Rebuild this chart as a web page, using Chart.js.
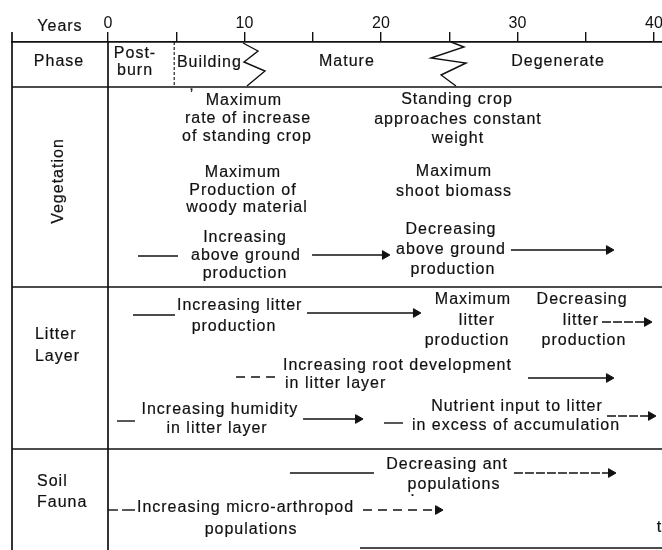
<!DOCTYPE html>
<html><head><meta charset="utf-8">
<script src="https://cdn.jsdelivr.net/npm/chart.js@4/dist/chart.umd.min.js"></script>
<style>html,body{margin:0;padding:0;background:#fff}canvas{display:block}</style>
</head><body>
<canvas id="c" width="662" height="550"></canvas>
<script>
// ---- axis (years) ----
const X_MIN = -7.033, X_MAX = 40.586;
const tickYears = [0, 5, 10, 15, 20, 25, 30, 35, 40];
const tickLabels = ['0', '', '10', '', '20', '', '30', '', '40'];
// ---- row layout (row units, top to bottom) ----
const ROW_TOP = 42, ROW_BOTTOM = 550;
const rowSeparators = [87, 287, 449];
// ---- phases ----
const postBurnEnd = 4.85;
const zigzag1X = [9.89, 10.99, 9.96, 11.50, 10.18];
const zigzag1Y = [43, 51, 62, 71, 86];
const zigzag2X = [25.13, 26.08, 23.66, 26.23, 24.40, 25.49];
const zigzag2Y = [42, 47, 58, 63, 75, 86];
// ---- trend arrows: start year, end year, row, dash style, arrow head ----
const arrowFrom = [2.20, 14.95, 29.52, 1.83, 14.58, 36.19, 9.38, 30.77, 0.66, 14.29, 20.22, 36.56, 13.33, 29.74, 0.00, 1.03, 18.68];
const arrowTo   = [5.13, 20.29, 36.70, 4.91, 22.56, 39.49, 12.67, 36.70, 1.98, 18.32, 21.61, 39.78, 19.49, 36.85, 0.73, 1.98, 24.18];
const arrowRow  = [256, 255, 250, 315, 313, 322, 377, 378, 421, 419, 423, 416, 473, 473, 510, 510, 510];
const arrowDash = [0, 0, 0, 0, 0, 1, 2, 0, 0, 0, 0, 1, 0, 1, 0, 0, 2];
const arrowHead = [0, 1, 1, 0, 1, 1, 0, 1, 0, 1, 0, 1, 0, 1, 0, 0, 1];
// ---- text notes: year, row, text, align ----
const noteX = [-3.52, -3.59, 1.98, 1.98, 5.05, 17.5, 32.97,
  6.15, 9.96, 10.26, 10.18, 9.89, 9.89, 10.18, 10.04, 10.11, 10.04,
  25.57, 25.64, 25.64, 25.35, 25.35, 25.13, 25.13, 25.27,
  -5.35, -5.35, 5.05, 9.23, 26.74, 27.03, 26.30, 34.73, 34.65, 34.87,
  12.82, 12.97, 8.2, 7.99, 29.96, 29.89,
  -5.2, -5.2, 24.84, 25.35, 2.12, 10.48, 40.2, 22.34];
const noteY = [27, 62, 54, 71, 63, 62, 62,
  97, 101, 119, 137, 173, 191, 208, 238, 256, 274,
  100, 120, 139, 172, 192, 230, 250, 270,
  335, 357, 306, 327, 300, 321, 341, 300, 321, 341,
  366, 384, 410, 429, 407, 426,
  482, 503, 465, 485, 508, 530, 528, 492];
const noteText = ['Years', 'Phase', 'Post-', 'burn', 'Building', 'Mature', 'Degenerate',
  '\u02BC', 'Maximum', 'rate of increase', 'of standing crop', 'Maximum', 'Production of', 'woody material', 'Increasing', 'above ground', 'production',
  'Standing crop', 'approaches constant', 'weight', 'Maximum', 'shoot biomass', 'Decreasing', 'above ground', 'production',
  'Litter', 'Layer', 'Increasing litter', 'production', 'Maximum', 'litter', 'production', 'Decreasing', 'litter', 'production',
  'Increasing root development', 'in litter layer', 'Increasing humidity', 'in litter layer', 'Nutrient input to litter', 'in excess of accumulation',
  'Soil', 'Fauna', 'Decreasing ant', 'populations', 'Increasing micro-arthropod', 'populations', 't', '.'];
const noteAlign = ['c', 'c', 'c', 'c', 'l', 'c', 'c',
  'c', 'c', 'c', 'c', 'c', 'c', 'c', 'c', 'c', 'c',
  'c', 'c', 'c', 'c', 'c', 'c', 'c', 'c',
  'l', 'l', 'l', 'c', 'c', 'c', 'c', 'c', 'c', 'c',
  'l', 'l', 'c', 'c', 'c', 'c',
  'l', 'l', 'c', 'c', 'l', 'c', 'l', 'c'];
// rotated row label
const vegLabel = {x: -3.59, y: 181, text: 'Vegetation'};

const INK = '#111';
const FONT = '"Liberation Sans", Arial, Helvetica, sans-serif';

function seg(x1, y1, x2, y2, extra) {
  return Object.assign({data: [{x: x1, y: y1}, {x: x2, y: y2}], showLine: true, borderColor: INK,
    borderWidth: 1.5, pointRadius: 0, pointHoverRadius: 0, clip: false, tension: 0}, extra || {});
}

const datasets = [];
// frame
datasets.push(seg(X_MIN, 32, X_MIN, ROW_BOTTOM, {borderWidth: 1.7}));
datasets.push(seg(0, ROW_TOP, 0, ROW_BOTTOM, {borderWidth: 1.7}));
rowSeparators.forEach(r => datasets.push(seg(X_MIN, r, X_MAX, r, {borderWidth: 1.7})));
datasets.push(seg(18.46, 548, X_MAX, 548, {borderWidth: 1.7}));
// phase boundaries
datasets.push(seg(postBurnEnd, ROW_TOP, postBurnEnd, rowSeparators[0], {borderWidth: 1.1, borderDash: [3, 2]}));
datasets.push({data: zigzag1X.map((x, i) => ({x, y: zigzag1Y[i]})), showLine: true, borderColor: INK, borderWidth: 1.4, pointRadius: 0, pointHoverRadius: 0, clip: false, tension: 0});
datasets.push({data: zigzag2X.map((x, i) => ({x, y: zigzag2Y[i]})), showLine: true, borderColor: INK, borderWidth: 1.4, pointRadius: 0, pointHoverRadius: 0, clip: false, tension: 0});
// arrows
arrowFrom.forEach((f, i) => {
  const dash = arrowDash[i] === 1 ? [9, 2] : (arrowDash[i] === 2 ? [9, 6] : []);
  datasets.push(seg(f, arrowRow[i], arrowTo[i], arrowRow[i], {
    borderWidth: 1.4, borderDash: dash,
    pointRadius: arrowHead[i] ? [0, 5] : 0,
    pointStyle: 'triangle', rotation: 90,
    pointBackgroundColor: INK, pointBorderColor: INK, pointBorderWidth: 1
  }));
});

const notesPlugin = {
  id: 'notes',
  afterDatasetsDraw(chart) {
    const ctx = chart.ctx, xs = chart.scales.x, ys = chart.scales.y;
    ctx.save();
    ctx.fillStyle = INK;
    ctx.strokeStyle = INK;
    ctx.lineWidth = 0.2;
    ctx.font = '16px ' + FONT;
    ctx.textBaseline = 'middle';
    if ('letterSpacing' in ctx) ctx.letterSpacing = '1px';
    noteText.forEach((t, i) => {
      ctx.textAlign = noteAlign[i] === 'l' ? 'left' : 'center';
      const px = xs.getPixelForValue(noteX[i]), py = ys.getPixelForValue(noteY[i]);
      ctx.fillText(t, px, py);
      ctx.strokeText(t, px, py);
    });
    ctx.translate(xs.getPixelForValue(vegLabel.x), ys.getPixelForValue(vegLabel.y));
    ctx.rotate(-Math.PI / 2);
    ctx.textAlign = 'center';
    ctx.fillText(vegLabel.text, 0, 0);
    ctx.strokeText(vegLabel.text, 0, 0);
    ctx.restore();
  }
};

new Chart(document.getElementById('c'), {
  type: 'scatter',
  data: {datasets},
  options: {
    responsive: false, animation: false, devicePixelRatio: 1,
    layout: {autoPadding: false, padding: {left: 12, right: 0, top: 0, bottom: 0}},
    plugins: {legend: {display: false}, tooltip: {enabled: false}},
    events: [],
    scales: {
      x: {
        type: 'linear', position: 'top', min: X_MIN, max: X_MAX,
        afterBuildTicks: s => { s.ticks = tickYears.map(v => ({value: v})); },
        afterFit: s => { s.height = ROW_TOP; s.paddingLeft = 0; s.paddingRight = 0; },
        ticks: {autoSkip: false, maxRotation: 0, padding: 0, color: INK,
          font: {family: FONT, size: 16, lineHeight: 1}, callback: (v, i) => tickLabels[i]},
        grid: {drawOnChartArea: false, drawTicks: true, tickLength: 10, color: INK, lineWidth: 1.4},
        border: {display: true, color: INK, width: 1.7}
      },
      y: {type: 'linear', min: ROW_TOP, max: ROW_BOTTOM, reverse: true, display: false}
    }
  },
  plugins: [notesPlugin]
});
</script>
</body></html>
